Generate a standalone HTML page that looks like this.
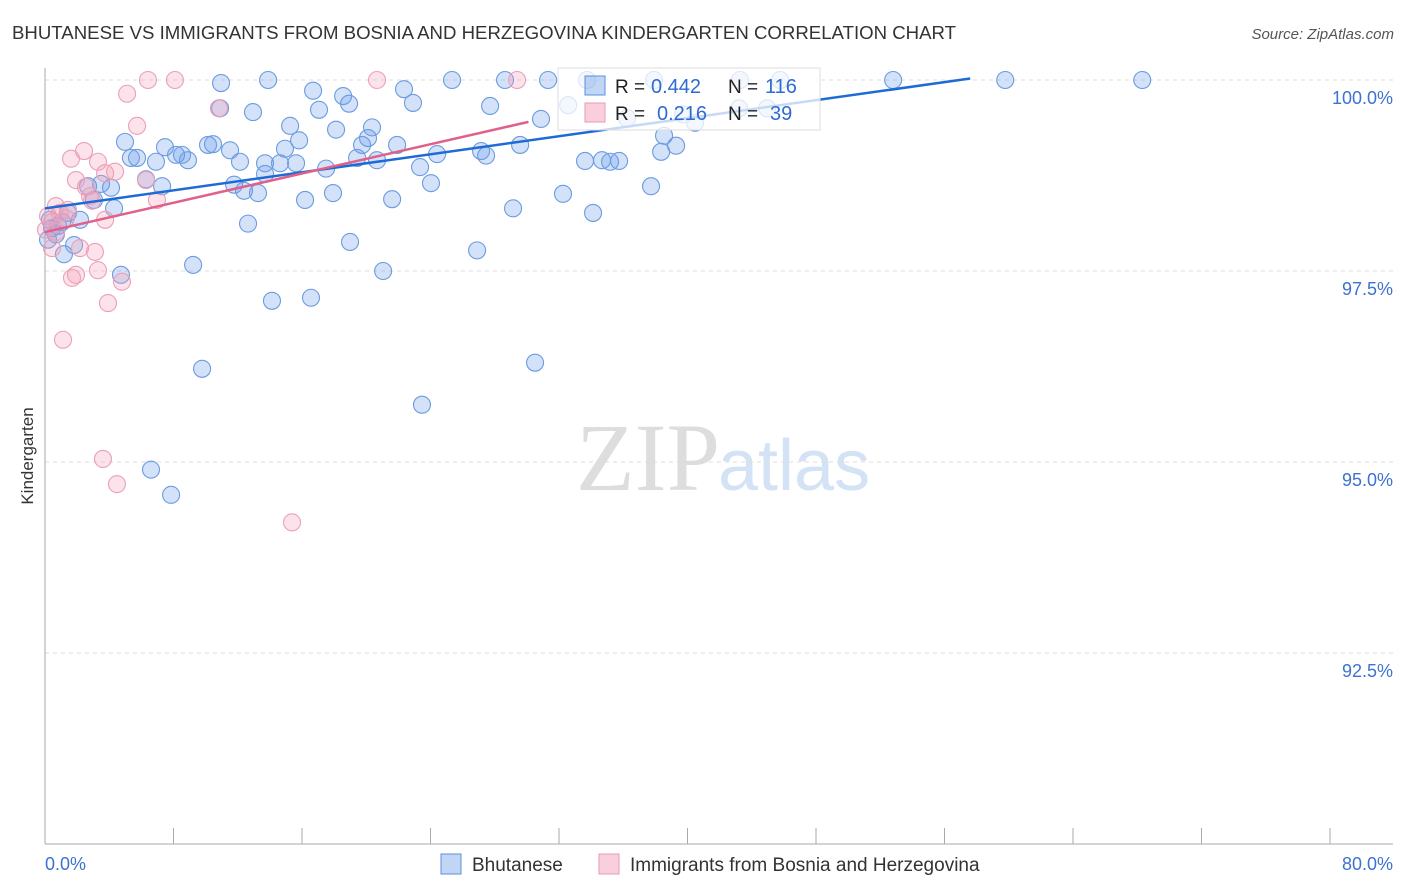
<!DOCTYPE html>
<html><head><meta charset="utf-8"><style>
body{margin:0;background:#fff;font-family:"Liberation Sans",sans-serif;}
#wrap{position:relative;width:1406px;height:892px;overflow:hidden;}
</style></head><body>
<div id="wrap">
<svg id="svg" width="1406" height="892" xmlns="http://www.w3.org/2000/svg" font-family="Liberation Sans, sans-serif">
<text x="12" y="39" font-size="18.5" fill="#333" textLength="944" lengthAdjust="spacingAndGlyphs">BHUTANESE VS IMMIGRANTS FROM BOSNIA AND HERZEGOVINA KINDERGARTEN CORRELATION CHART</text>
<text x="1394" y="39" font-size="15" fill="#555" font-style="italic" text-anchor="end">Source: ZipAtlas.com</text>
<text x="33" y="456" font-size="17" fill="#333" transform="rotate(-90 33 456)" text-anchor="middle">Kindergarten</text>
<text x="720" y="490" font-size="96" fill="#ddd" text-anchor="end" font-family="Liberation Serif, serif">ZIP</text>
<text x="718" y="490" font-size="72" fill="#d4e2f5">atlas</text>
<g id="grid"></g><g id="axes"></g><g id="pts"></g><g id="lines"></g>
<g>
<rect x="558" y="68" width="262" height="62" fill="rgba(255,255,255,0.75)" stroke="#ddd"/>
<rect x="585" y="76" width="20" height="19" fill="rgba(100,150,230,0.4)" stroke="#5b8fde"/>
<rect x="585" y="103" width="20" height="19" fill="rgba(245,160,185,0.5)" stroke="#e89ab3"/>
<text x="615" y="93" font-size="19" fill="#222">R =</text>
<text x="651" y="93" font-size="20" fill="#2f6bd0">0.442</text>
<text x="728" y="93" font-size="19" fill="#222">N =</text>
<text x="765" y="93" font-size="20" fill="#2f6bd0">116</text>
<text x="615" y="120" font-size="19" fill="#222">R =</text>
<text x="657" y="120" font-size="20" fill="#2f6bd0">0.216</text>
<text x="728" y="120" font-size="19" fill="#222">N =</text>
<text x="770" y="120" font-size="20" fill="#2f6bd0">39</text>
</g>
<g>
<rect x="441" y="854" width="20" height="20" fill="rgba(100,150,230,0.4)" stroke="#5b8fde"/>
<text x="472" y="871" font-size="19" fill="#333">Bhutanese</text>
<rect x="599" y="854" width="20" height="20" fill="rgba(245,160,185,0.5)" stroke="#e89ab3"/>
<text x="630" y="871" font-size="19" fill="#333">Immigrants from Bosnia and Herzegovina</text>
</g>
</svg></div>
<script>
const blueX=[10.96,13.89,25.34,28.64,31.32,33.75,37.92,43.27,45.77,52.80,59.78,68.31,16.69,18.56,22.35,12.95,10.90,17.06,18.93,22.91,27.71,30.88,32.57,36.24,39.73,40.47,43.21,44.96,4.98,7.47,10.15,8.53,5.35,5.73,6.91,8.16,8.90,10.46,11.52,12.14,15.26,18.12,15.82,14.94,13.70,14.63,15.63,17.50,19.74,20.36,20.11,19.43,20.67,21.92,23.35,24.41,27.15,27.46,29.58,33.62,34.68,35.18,35.74,38.54,38.36,39.29,37.73,32.25,29.14,34.12,26.90,21.61,24.03,17.93,16.19,13.70,12.39,11.77,13.26,12.64,7.29,6.29,4.11,3.49,2.68,3.05,4.30,1.43,1.06,0.44,0.19,0.68,1.81,1.18,4.73,9.22,14.13,16.56,18.99,21.05,9.78,30.51,23.47,6.60,7.85,0.81,0.31,2.18];
const blueY=[99.96,100,100,100,100,100,100,100,100,100,100,100,99.86,99.79,99.88,99.58,99.63,99.61,99.69,99.70,99.66,99.49,99.67,99.50,99.55,99.44,99.63,99.63,99.19,99.12,99.15,99.02,98.98,98.98,98.93,99.02,98.95,99.16,99.08,98.93,99.40,99.35,99.21,99.10,98.91,98.91,98.91,98.84,99.15,99.38,99.24,98.98,98.95,99.15,98.86,99.03,99.07,99.01,99.15,98.94,98.95,98.93,98.94,99.27,99.06,99.14,98.61,98.51,98.32,98.26,97.77,98.44,98.65,98.52,98.43,98.77,98.55,98.63,98.52,98.12,98.61,98.70,98.59,98.64,98.61,98.43,98.32,98.26,98.14,98.06,97.91,97.98,97.84,97.72,97.45,97.58,97.11,97.15,97.88,97.50,96.22,96.30,95.75,94.90,94.57,98.09,98.17,98.17];
const pinkX=[6.41,8.09,20.67,29.39,5.11,10.83,5.73,2.43,1.62,3.30,3.74,4.36,1.93,2.55,2.80,2.93,6.29,6.97,3.74,1.43,0.68,0.19,0.68,0.44,2.18,3.11,3.30,1.93,1.68,4.79,3.92,1.12,3.61,4.48,15.38,1.31,0.06,0.93,0.44];
const pinkY=[100,100,100,100,99.82,99.63,99.40,99.07,98.97,98.93,98.78,98.80,98.69,98.60,98.48,98.42,98.69,98.43,98.17,98.30,98.35,98.22,98.01,97.80,97.80,97.75,97.51,97.45,97.41,97.36,97.08,96.60,95.04,94.71,94.21,98.19,98.04,98.26,98.14];
const yTicks=[100,97.5,95,92.5];
const yTickLabels=["100.0%","97.5%","95.0%","92.5%"];
const xTickVals=[0,8,16,24,32,40,48,56,64,72,80];
const blueTrend=[98.32,0.0295,57.6];   // intercept, slope, end x
const pinkTrend=[98.01,0.0479,30.1];
const NS="http://www.w3.org/2000/svg";
const X=v=>45+v/80*1285, Y=v=>80+(100-v)/2.5*191;
function mk(tag,at,parent){const e=document.createElementNS(NS,tag);for(const k in at)e.setAttribute(k,at[k]);document.getElementById(parent).appendChild(e);return e;}
yTicks.forEach((t,i)=>{
 const l=mk('line',{x1:45,x2:1393,y1:Y(t),y2:Y(t),stroke:'#ddd','stroke-dasharray':'4,4'},'grid');
 
 
 const tx=mk('text',{x:1393,y:Y(t)+24,'font-size':18,fill:'#3d72d0','text-anchor':'end'},'grid');
 tx.textContent=yTickLabels[i];
 
 
});
const ax=mk('line',{x1:45,x2:45,y1:68,y2:844,stroke:'#aaa'},'axes');


const bx=mk('line',{x1:45,x2:1393,y1:844,y2:844,stroke:'#aaa'},'axes');


xTickVals.forEach(v=>{const t=mk('line',{x1:X(v),x2:X(v),y1:828,y2:844,stroke:'#aaa'},'axes');
 
 });
const x0=mk('text',{x:45,y:870,'font-size':18,fill:'#3d72d0'},'axes');x0.textContent='0.0%';


const x1=mk('text',{x:1393,y:870,'font-size':18,fill:'#3d72d0','text-anchor':'end'},'axes');x1.textContent='80.0%';


blueX.forEach((x,i)=>{const c=mk('circle',{cx:X(x),cy:Y(blueY[i]),r:8.5,fill:'rgba(110,160,235,0.3)',stroke:'#6b9be0','stroke-width':1.1},'pts');
 
 });
pinkX.forEach((x,i)=>{const c=mk('circle',{cx:X(x),cy:Y(pinkY[i]),r:8.5,fill:'rgba(245,160,185,0.3)',stroke:'#eba0b8','stroke-width':1.1},'pts');
 
 });
const bl=mk('line',{x1:X(0),y1:Y(blueTrend[0]),x2:X(blueTrend[2]),y2:Y(blueTrend[0]+blueTrend[1]*blueTrend[2]),stroke:'#1f6bd6','stroke-width':2.5},'lines');


const pl=mk('line',{x1:X(0),y1:Y(pinkTrend[0]),x2:X(pinkTrend[2]),y2:Y(pinkTrend[0]+pinkTrend[1]*pinkTrend[2]),stroke:'#e0608a','stroke-width':2.5},'lines');


</script>
</body></html>
